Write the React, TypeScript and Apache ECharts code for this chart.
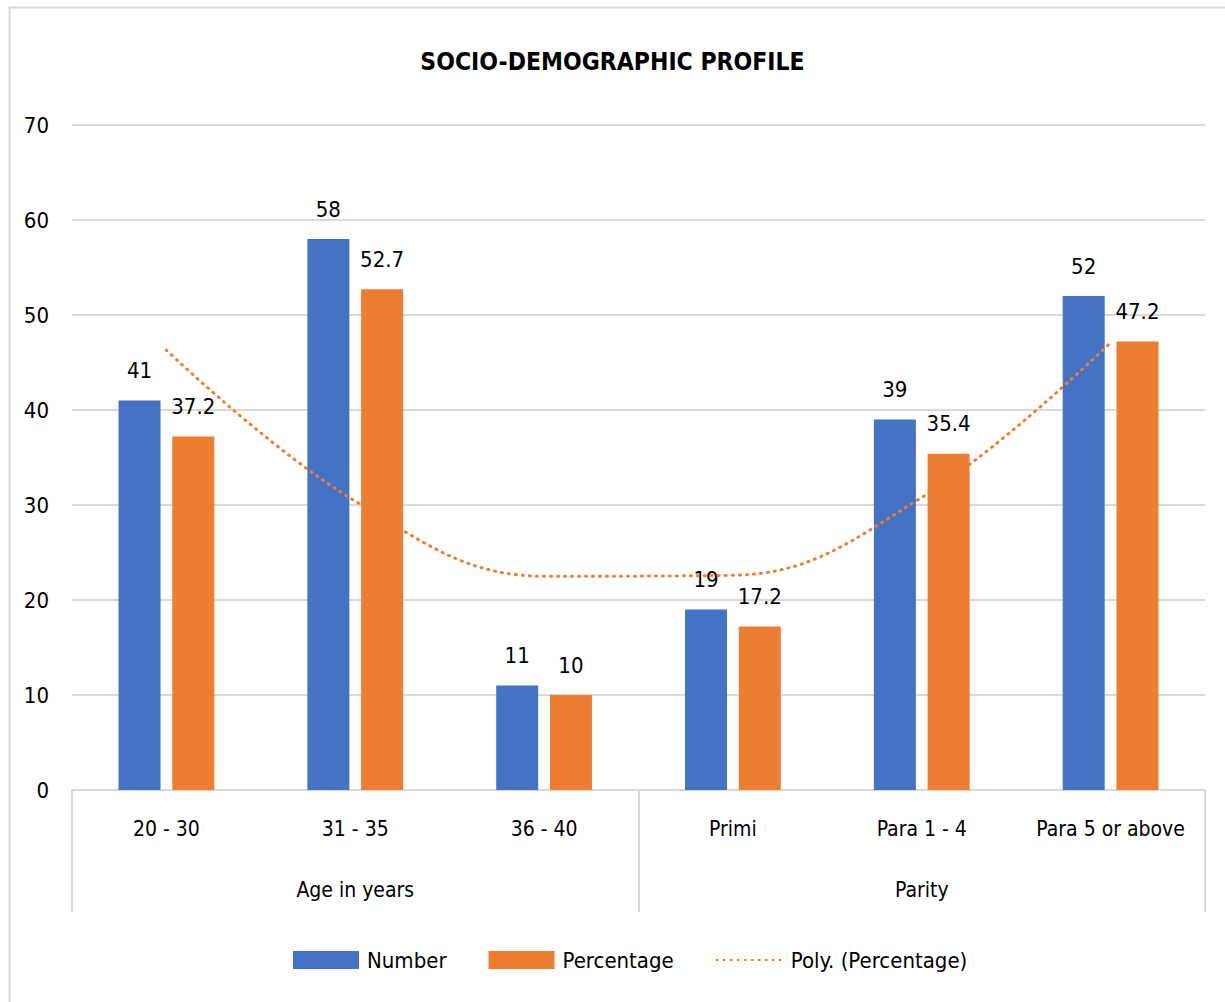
import React, { useEffect, useRef } from "react";
import * as echarts from "echarts";

const categories = ["20 - 30", "31 - 35", "36 - 40", "Primi", "Para 1 - 4", "Para 5 or above"];
const groups = ["Age in years", "Parity"];
const numberValues = [41, 58, 11, 19, 39, 52];
const percentageValues = [37.2, 52.7, 10, 17.2, 35.4, 47.2];
const polyTrendValues = [46.3, 30.4, 22.5, 22.6, 30.8, 47.1];

const FONT = "'Liberation Sans Narrow', 'DejaVu Sans Condensed', 'DejaVu Sans', sans-serif";

export default function App() {
  const ref = useRef<HTMLDivElement>(null);
  useEffect(() => {
    if (!ref.current) return;
    const chart = echarts.init(ref.current, null, { renderer: "svg" });
    chart.setOption({
      animation: false,
      backgroundColor: "#ffffff",
      textStyle: { fontFamily: FONT },
      title: {
        text: "SOCIO-DEMOGRAPHIC PROFILE",
        left: "center",
        top: 44,
        textStyle: { fontFamily: FONT, fontSize: 24.5, fontWeight: "bold", color: "#000" },
      },
      graphic: [
        {
          type: "rect",
          shape: { x: 9.5, y: 7.5, width: 1230, height: 1010 },
          style: { fill: "none", stroke: "#d9d9d9", lineWidth: 2 },
          silent: true,
        },
      ],
      legend: {
        bottom: 26,
        left: 288,
        itemGap: 42,
        itemWidth: 66,
        itemHeight: 18,
        textStyle: { fontFamily: FONT, fontSize: 22, color: "#000", padding: [0, 0, 0, 3] },
        data: [
          { name: "Number", icon: "rect" },
          { name: "Percentage", icon: "rect" },
          { name: "Poly. (Percentage)", itemStyle: { opacity: 0 } },
        ],
      },
      grid: { left: 72, right: 20, top: 125, bottom: 212, containLabel: false },
      xAxis: [
        {
          type: "category",
          data: categories,
          position: "bottom",
          axisLine: { show: true, lineStyle: { color: "#d9d9d9", width: 2 } },
          axisTick: { show: false },
          axisLabel: { fontFamily: FONT, fontSize: 21, color: "#000", margin: 28, interval: 0 },
        },
        {
          type: "category",
          data: groups,
          position: "bottom",
          axisLine: { show: false },
          axisTick: { show: true, interval: 0, length: 122, lineStyle: { color: "#d9d9d9", width: 2 } },
          axisLabel: { fontFamily: FONT, fontSize: 21, color: "#000", margin: 89, interval: 0 },
          splitLine: { show: false },
        },
      ],
      yAxis: {
        type: "value",
        min: 0,
        max: 70,
        interval: 10,
        axisLine: { show: false },
        axisTick: { show: false },
        axisLabel: { fontFamily: FONT, fontSize: 22, color: "#000", margin: 23 },
        splitLine: { lineStyle: { color: "#d9d9d9", width: 2 } },
      },
      series: [
        {
          name: "Number",
          type: "bar",
          data: numberValues,
          barWidth: 42,
          barGap: "28%",
          itemStyle: { color: "#4472C4" },
          label: {
            show: true,
            position: "top",
            distance: 19,
            fontFamily: FONT,
            fontSize: 22,
            color: "#000",
          },
        },
        {
          name: "Percentage",
          type: "bar",
          data: percentageValues,
          barWidth: 42,
          itemStyle: { color: "#ED7D31" },
          label: {
            show: true,
            position: "top",
            distance: 19,
            fontFamily: FONT,
            fontSize: 22,
            color: "#000",
          },
        },
        {
          name: "Poly. (Percentage)",
          type: "line",
          data: polyTrendValues,
          smooth: 0.4,
          symbol: "none",
          z: 5,
          itemStyle: { color: "#ED7D31" },
          lineStyle: { color: "#ED7D31", width: 3, type: [1, 6], cap: "round" },
        },
      ],
    });
    return () => chart.dispose();
  }, []);
  return (
    <div
      ref={ref}
      style={{ position: "absolute", left: 0, top: 0, width: 1225, height: 1002 }}
    />
  );
}
